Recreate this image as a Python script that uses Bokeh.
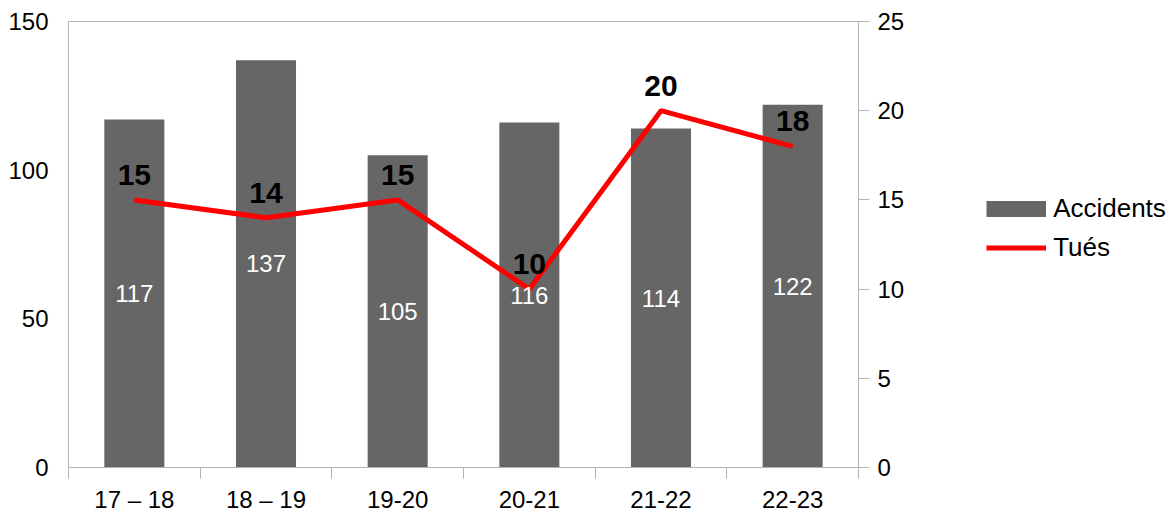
from bokeh.plotting import figure
from bokeh.models import Range1d, LinearAxis, FixedTicker, ColumnDataSource, Legend, LegendItem
from bokeh.embed import file_html
from bokeh.resources import INLINE
from bokeh.core.properties import value

categories = ["17 – 18", "18 – 19", "19-20", "20-21", "21-22", "22-23"]
accidents = [117, 137, 105, 116, 114, 122]
tues = [15, 14, 15, 10, 20, 18]
left_ticks = [0, 50, 100, 150]
right_ticks = [0, 5, 10, 15, 20, 25]

FONT = "Liberation Sans"
GRAY = "#b3b3b3"

xs = [i + 0.5 for i in range(len(categories))]
src = ColumnDataSource(dict(
    x=xs, acc=accidents, acc_mid=[a / 2 for a in accidents],
    acc_txt=[str(a) for a in accidents],
    tues=tues, tues_txt=[str(t) for t in tues],
))

p = figure(width=1176, height=513, frame_width=790, frame_height=446,
           min_border_left=68, min_border_top=21, min_border_right=318,
           x_range=Range1d(0, len(categories)), y_range=Range1d(0, 150),
           output_backend="svg", toolbar_location=None)
p.extra_y_ranges = {"right": Range1d(0, 25)}
p.xgrid.visible = False
p.ygrid.visible = False
p.outline_line_color = GRAY
p.background_fill_color = "white"
p.border_fill_color = "white"

# left axis
ya = p.yaxis[0]
ya.ticker = FixedTicker(ticks=left_ticks)
ya.axis_line_color = GRAY
ya.major_tick_out = 0
ya.major_tick_in = 0
ya.minor_tick_out = 0
ya.minor_tick_in = 0
ya.major_label_text_font = FONT
ya.major_label_text_font_size = "24px"
ya.major_label_text_color = "black"
ya.major_label_standoff = 20

# right axis
ra = LinearAxis(y_range_name="right", ticker=FixedTicker(ticks=right_ticks))
ra.axis_line_color = GRAY
ra.major_tick_line_color = GRAY
ra.major_tick_out = 11
ra.major_tick_in = 0
ra.minor_tick_out = 0
ra.minor_tick_in = 0
ra.major_label_text_font = FONT
ra.major_label_text_font_size = "24px"
ra.major_label_text_color = "black"
ra.major_label_standoff = 8
p.add_layout(ra, "right")

# x axis
xa = p.xaxis[0]
xa.ticker = FixedTicker(ticks=xs, minor_ticks=list(range(len(categories) + 1)))
xa.major_label_overrides = {x: c for x, c in zip(xs, categories)}
xa.axis_line_color = GRAY
xa.major_tick_out = 0
xa.major_tick_in = 0
xa.minor_tick_out = 11
xa.minor_tick_in = 0
xa.minor_tick_line_color = GRAY
xa.major_label_text_font = FONT
xa.major_label_text_font_size = "24px"
xa.major_label_text_color = "black"
xa.major_label_standoff = 7

bars = p.vbar(x="x", top="acc", width=0.456, source=src, fill_color="#666666", line_color=None)
line = p.line(x="x", y="tues", source=src, y_range_name="right", line_color="#ff0000", line_width=5)

p.text(x="x", y="acc_mid", text="acc_txt", source=src, text_color="white",
       text_font=value(FONT), text_font_size="24px", text_align="center", text_baseline="middle")
p.text(x="x", y="tues", text="tues_txt", source=src, y_range_name="right", text_color="black",
       text_font=value(FONT), text_font_size="30px", text_font_style="bold",
       text_align="center", text_baseline="middle", y_offset=-25)

# legend swatches (invisible NaN data, used only for the legend glyphs)
nan = float("nan")
dummy_bar = p.line(x=[nan], y=[nan], line_color="#666666", line_width=16)
dummy_line = p.line(x=[nan], y=[nan], line_color="#ff0000", line_width=5)
legend = Legend(items=[LegendItem(label="Accidents", renderers=[dummy_bar]),
                       LegendItem(label="Tués", renderers=[dummy_line])],
                location=(-141, 200), orientation="vertical")
legend.border_line_color = None
legend.background_fill_alpha = 0
legend.padding = 0
legend.margin = 0
legend.spacing = 0
legend.glyph_width = 60
legend.glyph_height = 39
legend.label_height = 39
legend.label_standoff = 7
legend.label_text_font = FONT
legend.label_text_font_size = "26px"
legend.label_text_color = "black"
p.add_layout(legend, "right")

open("out.html", "w").write(file_html(p, INLINE))
